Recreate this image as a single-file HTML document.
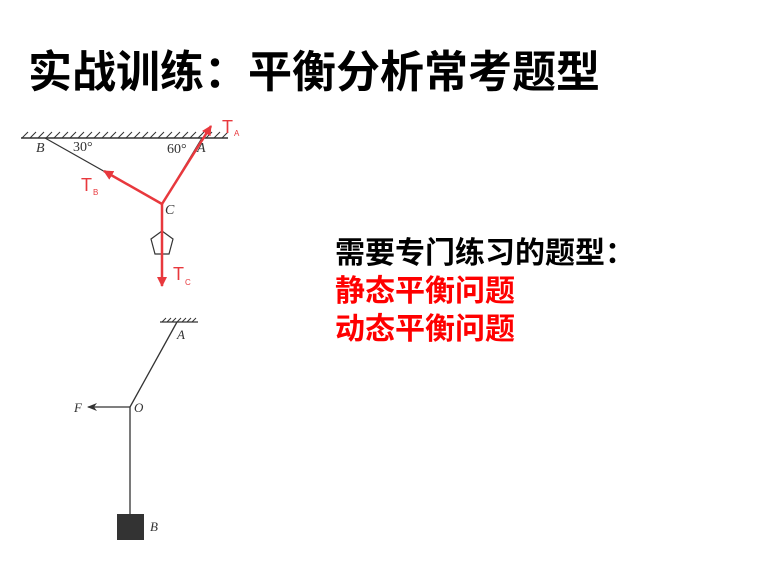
<!DOCTYPE html>
<html><head><meta charset="utf-8"><style>
html,body{margin:0;padding:0;background:#fff;width:779px;height:582px;overflow:hidden;position:relative;font-family:"Liberation Sans","Noto Sans CJK SC",sans-serif}
.t{position:absolute;left:28px;top:36px;font-size:44px;font-weight:bold;color:#000;white-space:nowrap;letter-spacing:0px}
.r{position:absolute;left:335px;top:235px;font-size:30px;font-weight:bold;line-height:38px;white-space:nowrap}
</style></head><body>
<div class="t">实战训练：平衡分析常考题型</div>
<div class="r"><div style="color:#000">需要专门练习的题型：</div><div style="color:#f00">静态平衡问题</div><div style="color:#f00">动态平衡问题</div></div>
<svg width="779" height="582" style="position:absolute;left:0;top:0" xmlns="http://www.w3.org/2000/svg">
<defs>
<marker id="ar" markerWidth="10" markerHeight="10" refX="9" refY="5" orient="auto" markerUnits="userSpaceOnUse"><path d="M0,0 L10,5 L0,10 Z" fill="#e8383d"/></marker>
<marker id="ak" markerWidth="10" markerHeight="8" refX="9" refY="4" orient="auto" markerUnits="userSpaceOnUse"><path d="M0,0 L10,4 L0,8 L3,4 Z" fill="#333"/></marker>
</defs>
<line x1="21" y1="138" x2="228" y2="138" stroke="#333" stroke-width="1.5"/>
<g stroke="#333" stroke-width="1">
<path d="M22,138 l6,-6 M30,138 l6,-6 M38,138 l6,-6 M46,138 l6,-6 M54,138 l6,-6 M62,138 l6,-6 M70,138 l6,-6 M78,138 l6,-6 M86,138 l6,-6 M94,138 l6,-6 M102,138 l6,-6 M110,138 l6,-6 M118,138 l6,-6 M126,138 l6,-6 M134,138 l6,-6 M142,138 l6,-6 M150,138 l6,-6 M158,138 l6,-6 M166,138 l6,-6 M174,138 l6,-6 M182,138 l6,-6 M190,138 l6,-6 M198,138 l6,-6 M206,138 l6,-6 M214,138 l6,-6 M222,138 l6,-6"/>
</g>
<line x1="45" y1="138" x2="162" y2="204" stroke="#333" stroke-width="1.2"/>
<line x1="202" y1="138" x2="162" y2="204" stroke="#333" stroke-width="1.2"/>
<polygon points="162,231 173,239 169,254 155,254 151,239" fill="none" stroke="#333" stroke-width="1.2"/>
<line x1="162" y1="204" x2="104" y2="171" stroke="#e8383d" stroke-width="2.5" marker-end="url(#ar)"/>
<line x1="162" y1="204" x2="211" y2="126" stroke="#e8383d" stroke-width="2.5" marker-end="url(#ar)"/>
<line x1="162" y1="204" x2="162" y2="286" stroke="#e8383d" stroke-width="2.5" marker-end="url(#ar)"/>
<g font-family="Liberation Serif,serif" font-size="14" fill="#333">
<text x="36" y="152" font-style="italic">B</text>
<text x="73" y="151">30°</text>
<text x="167" y="153">60°</text>
<text x="197" y="152" font-style="italic">A</text>
<text x="165" y="214" font-style="italic">C</text>
</g>
<g font-family="Liberation Sans,sans-serif" fill="#e8383d">
<text x="222" y="133" font-size="18">T</text><text x="234" y="136" font-size="8">A</text>
<text x="81" y="191" font-size="18">T</text><text x="93" y="195" font-size="8">B</text>
<text x="173" y="280" font-size="18">T</text><text x="185" y="285" font-size="8">C</text>
</g>
<line x1="160" y1="322" x2="198" y2="322" stroke="#333" stroke-width="1.2"/>
<path d="M162,322 l4,-4 M167,322 l4,-4 M172,322 l4,-4 M177,322 l4,-4 M182,322 l4,-4 M187,322 l4,-4 M192,322 l4,-4" stroke="#333" stroke-width="1"/>
<line x1="177" y1="322" x2="130" y2="407" stroke="#333" stroke-width="1.3"/>
<line x1="130" y1="407" x2="130" y2="514" stroke="#333" stroke-width="1.3"/>
<line x1="130" y1="407" x2="88" y2="407" stroke="#333" stroke-width="1.3" marker-end="url(#ak)"/>
<rect x="117" y="514" width="27" height="26" fill="#333"/>
<g font-family="Liberation Serif,serif" font-size="13" font-style="italic" fill="#333">
<text x="177" y="339">A</text>
<text x="134" y="412">O</text>
<text x="74" y="412">F</text>
<text x="150" y="531">B</text>
</g>
</svg>
</body></html>
